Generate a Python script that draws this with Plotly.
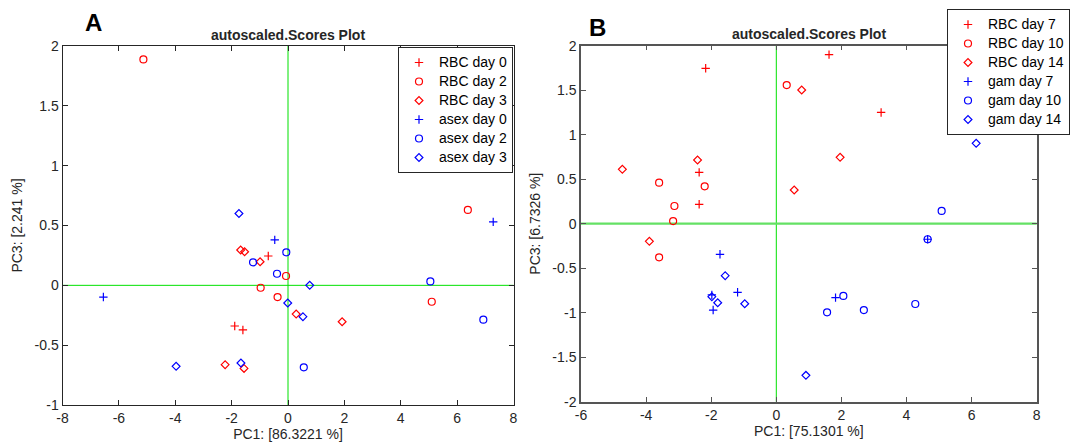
import plotly.graph_objects as go

# ---- panel A data (PC1 vs PC3) ----
a_rbc_d0_x = [-0.70, -1.89, -1.60]
a_rbc_d0_y = [0.245, -0.34, -0.373]
a_rbc_d2_x = [6.38, -0.07, -0.97, -0.37, 5.10, -5.13]
a_rbc_d2_y = [0.63, 0.078, -0.02, -0.098, -0.137, 1.888]
a_rbc_d3_x = [-1.68, -1.54, -0.99, 0.29, 1.92, -2.23, -1.56]
a_rbc_d3_y = [0.295, 0.281, 0.197, -0.24, -0.304, -0.663, -0.694]
a_asex_d0_x = [7.28, -0.47, -6.55]
a_asex_d0_y = [0.53, 0.38, -0.098]
a_asex_d2_x = [-0.06, -1.24, -0.39, 5.05, 6.93, 0.56]
a_asex_d2_y = [0.276, 0.192, 0.097, 0.033, -0.287, -0.685]
a_asex_d3_x = [-1.74, 0.77, -0.01, 0.53, -3.97, -1.67]
a_asex_d3_y = [0.60, 0.0, -0.148, -0.262, -0.677, -0.649]

# ---- panel B data ----
b_rbc_d7_x = [-2.17, 1.62, 3.22, -2.37, -2.37]
b_rbc_d7_y = [1.746, 1.90, 1.25, 0.577, 0.218]
b_rbc_d10_x = [0.32, -3.60, -2.20, -3.13, -3.17, -3.60]
b_rbc_d10_y = [1.558, 0.461, 0.42, 0.199, 0.03, -0.378]
b_rbc_d14_x = [0.78, 1.96, -4.73, -2.42, 0.55, -3.90]
b_rbc_d14_y = [1.502, 0.746, 0.611, 0.716, 0.379, -0.198]
b_gam_d7_x = [4.65, -1.73, -1.19, -1.98, -1.94, 1.82]
b_gam_d7_y = [-0.175, -0.344, -0.771, -0.80, -0.97, -0.831]
b_gam_d10_x = [5.08, 4.65, 2.06, 1.56, 2.69, 4.27]
b_gam_d10_y = [0.143, -0.175, -0.812, -0.996, -0.97, -0.902]
b_gam_d14_x = [6.14, -1.57, -1.98, -1.80, -0.97, 0.91]
b_gam_d14_y = [0.903, -0.584, -0.82, -0.888, -0.899, -1.704]

# tick labels (MATLAB style hyphen minus)
a_xticks = [-8, -6, -4, -2, 0, 2, 4, 6, 8]
a_yticks = [-1, -0.5, 0, 0.5, 1, 1.5, 2]
b_xticks = [-6, -4, -2, 0, 2, 4, 6, 8]
b_yticks = [-2, -1.5, -1, -0.5, 0, 0.5, 1, 1.5, 2]

FONT = "Liberation Sans, Arial, sans-serif"
RED = "rgb(255,0,0)"
BLUE = "rgb(0,0,255)"
SYMBOLS = {"+": "cross-thin-open", "o": "circle-open", "d": "diamond-open"}
SIZES = {"+": 6, "o": 7, "d": 6}

# page body has an 8px margin, so the figure is drawn 8px in from the corner
OFF = 8
W, H = 1078 - OFF, 445 - OFF


def px(x):
    return (x - OFF) / W


def py(y):
    return 1 - (y - OFF) / H


def fmt(v):
    return ("%g" % v)


def add_series(fig, name, sym, color, xs, ys, xa, ya, legend):
    fig.add_trace(go.Scatter(
        x=xs, y=ys, mode="markers",
        name='<span style="font-size:14px">%s</span>' % name,
        xaxis=xa, yaxis=ya, legend=legend,
        marker=dict(symbol=SYMBOLS[sym], size=SIZES[sym], color=color,
                    line=dict(color=color, width=1.2)),
    ))


fig = go.Figure()

# panel A
add_series(fig, "RBC day 0", "+", RED, a_rbc_d0_x, a_rbc_d0_y, "x", "y", "legend")
add_series(fig, "RBC day 2", "o", RED, a_rbc_d2_x, a_rbc_d2_y, "x", "y", "legend")
add_series(fig, "RBC day 3", "d", RED, a_rbc_d3_x, a_rbc_d3_y, "x", "y", "legend")
add_series(fig, "asex day 0", "+", BLUE, a_asex_d0_x, a_asex_d0_y, "x", "y", "legend")
add_series(fig, "asex day 2", "o", BLUE, a_asex_d2_x, a_asex_d2_y, "x", "y", "legend")
add_series(fig, "asex day 3", "d", BLUE, a_asex_d3_x, a_asex_d3_y, "x", "y", "legend")

# panel B
add_series(fig, "RBC day 7", "+", RED, b_rbc_d7_x, b_rbc_d7_y, "x2", "y2", "legend2")
add_series(fig, "RBC day 10", "o", RED, b_rbc_d10_x, b_rbc_d10_y, "x2", "y2", "legend2")
add_series(fig, "RBC day 14", "d", RED, b_rbc_d14_x, b_rbc_d14_y, "x2", "y2", "legend2")
add_series(fig, "gam day 7", "+", BLUE, b_gam_d7_x, b_gam_d7_y, "x2", "y2", "legend2")
add_series(fig, "gam day 10", "o", BLUE, b_gam_d10_x, b_gam_d10_y, "x2", "y2", "legend2")
add_series(fig, "gam day 14", "d", BLUE, b_gam_d14_x, b_gam_d14_y, "x2", "y2", "legend2")


def axis(domain, rng, ticks, title, anchor, linecolor, linewidth, standoff):
    return dict(
        domain=domain, range=rng, anchor=anchor, automargin=False,
        tickvals=ticks, ticktext=[fmt(t) for t in ticks],
        ticks="inside", ticklen=5, tickcolor=linecolor, tickwidth=1,
        showline=True, mirror="ticks", linecolor=linecolor, linewidth=linewidth,
        showgrid=False, zeroline=False,
        tickfont=dict(size=14, color="#262626", family=FONT),
        title=dict(text=title, font=dict(size=14, color="#262626", family=FONT), standoff=standoff),
    )


legend_style = dict(
    bgcolor="white", bordercolor="#262626", borderwidth=1,
    font=dict(size=12, color="black", family=FONT),
    xanchor="left", yanchor="top", tracegroupgap=0, itemwidth=30,
)

fig.update_layout(
    width=W, height=H,
    margin=dict(l=0, r=0, t=0, b=0, autoexpand=False),
    paper_bgcolor="white", plot_bgcolor="white",
    font=dict(family=FONT, size=14, color="#262626"),
    xaxis=axis([px(62.5), px(513.5)], [-8, 8], a_xticks, "PC1: [86.3221 %]", "y", "#262626", 1, 4),
    yaxis=axis([py(405), py(46)], [-1, 2], a_yticks, "PC3: [2.241 %]", "x", "#262626", 1, 8),
    xaxis2=axis([px(581), px(1036.7)], [-6, 8], b_xticks, "PC1: [75.1301 %]", "y2", "#555555", 1.5, 4),
    yaxis2=axis([py(401.7), py(45.7)], [-2, 2], b_yticks, "PC3: [6.7326 %]", "x2", "#555555", 1.5, 8),
    legend=dict(x=px(398), y=py(47), **legend_style),
    legend2=dict(x=px(947), y=py(9), **legend_style),
    showlegend=True,
)

# green reference lines through the origin
green_lines = [
    ("x", "y", 1, "rgb(0,225,0)", 1, "rgb(0,225,0)"),
    ("x2", "y2", 1, "rgb(0,225,0)", 2.2, "rgb(100,225,100)"),
]
for xr, yr, vw, vc, hw, hc in green_lines:
    fig.add_shape(type="line", xref=xr, yref=yr + " domain", x0=0, x1=0, y0=0, y1=1,
                  line=dict(color=vc, width=vw), layer="below")
    fig.add_shape(type="line", xref=xr + " domain", yref=yr, x0=0, x1=1, y0=0, y1=0,
                  line=dict(color=hc, width=hw), layer="below")

# panel letters and titles
for txt, xp, yp in [("A", 93, 22), ("B", 597, 28)]:
    fig.add_annotation(text="<b>%s</b>" % txt, x=px(xp), y=py(yp), xref="paper", yref="paper",
                       showarrow=False, font=dict(size=24, color="black", family=FONT),
                       xanchor="center", yanchor="middle")
for xp, yp in [(288, 35), (808.8, 34)]:
    fig.add_annotation(text="<b>autoscaled.Scores Plot</b>", x=px(xp), y=py(yp),
                       xref="paper", yref="paper", showarrow=False,
                       font=dict(size=14, color="#262626", family=FONT),
                       xanchor="center", yanchor="middle")

fig.write_html("out.html")
